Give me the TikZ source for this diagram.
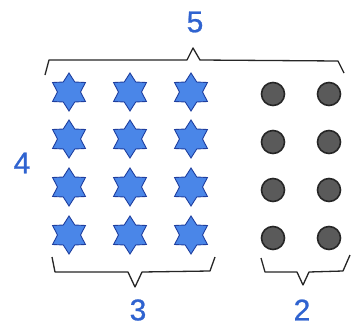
\documentclass[tikz,border=0pt]{standalone}
\usepackage{fontspec}
\setmainfont{Liberation Sans}
\newfontfamily\numfont[FakeBold=0.8]{Liberation Sans}
\usetikzlibrary{shapes.geometric}
\definecolor{numblue}{HTML}{2F63D0}
\definecolor{starfill}{HTML}{4A86E8}
\definecolor{starline}{HTML}{1F3F9F}
\definecolor{dotfill}{HTML}{5A5A5A}
\tikzset{
  hexstar/.style={star, star points=6, star point ratio=1.65, minimum size=38pt, inner sep=0pt,
    fill=starfill, draw=starline, line width=0.9pt, shape border rotate=0},
  dotmark/.style={circle, minimum size=23pt, inner sep=0pt, fill=dotfill, draw=black!85, line width=1.6pt},
  bracket/.style={draw=black!85, line width=1.3pt, line join=round},
  num/.style={text=numblue, font=\numfont\fontsize{30}{30}\selectfont, inner sep=0pt}
}
\begin{document}
\begin{tikzpicture}[x=1pt, y=-1pt]
\useasboundingbox (0,0) rectangle (351,332);
\fill[white] (0,0) rectangle (351,332);
% stars
\foreach \c/\x in {1/69,2/130,3/191}{
  \foreach \r/\y in {1/92,2/139,3/187,4/235}{
    \node[hexstar] (s\c\r) at (\x,\y) {};
  }
}
% dots
\foreach \c/\x in {1/273,2/329}{
  \foreach \r/\y in {1/94,2/142,3/190,4/238}{
    \node[dotmark] (d\c\r) at (\x,\y) {};
  }
}
% top brace
\coordinate (tl) at (45,75);
\coordinate (tr) at (344,73);
\draw[bracket] (tl) -- (49,60) -- (187,60) -- (193,48) -- (200,60) -- (338,61) -- (tr);
\node[num] (n5) at (195,22) {5};
% left label
\node[num] (n4) at (22,163) {4};
% bottom left brace
\coordinate (bl1) at (52,257);
\coordinate (bl2) at (215,257);
\draw[bracket] (bl1) -- (55,272) -- (128,272) -- (135,287) -- (142,272) -- (210,271) -- (bl2);
\node[num] (n3) at (138,310) {3};
% bottom right brace
\coordinate (br1) at (261,258);
\coordinate (br2) at (350,255);
\draw[bracket] (br1) -- (265,272) -- (297,272) -- (303,285) -- (309,272) -- (343,271) -- (br2);
\node[num] (n2) at (302,310) {2};
\end{tikzpicture}
\end{document}
